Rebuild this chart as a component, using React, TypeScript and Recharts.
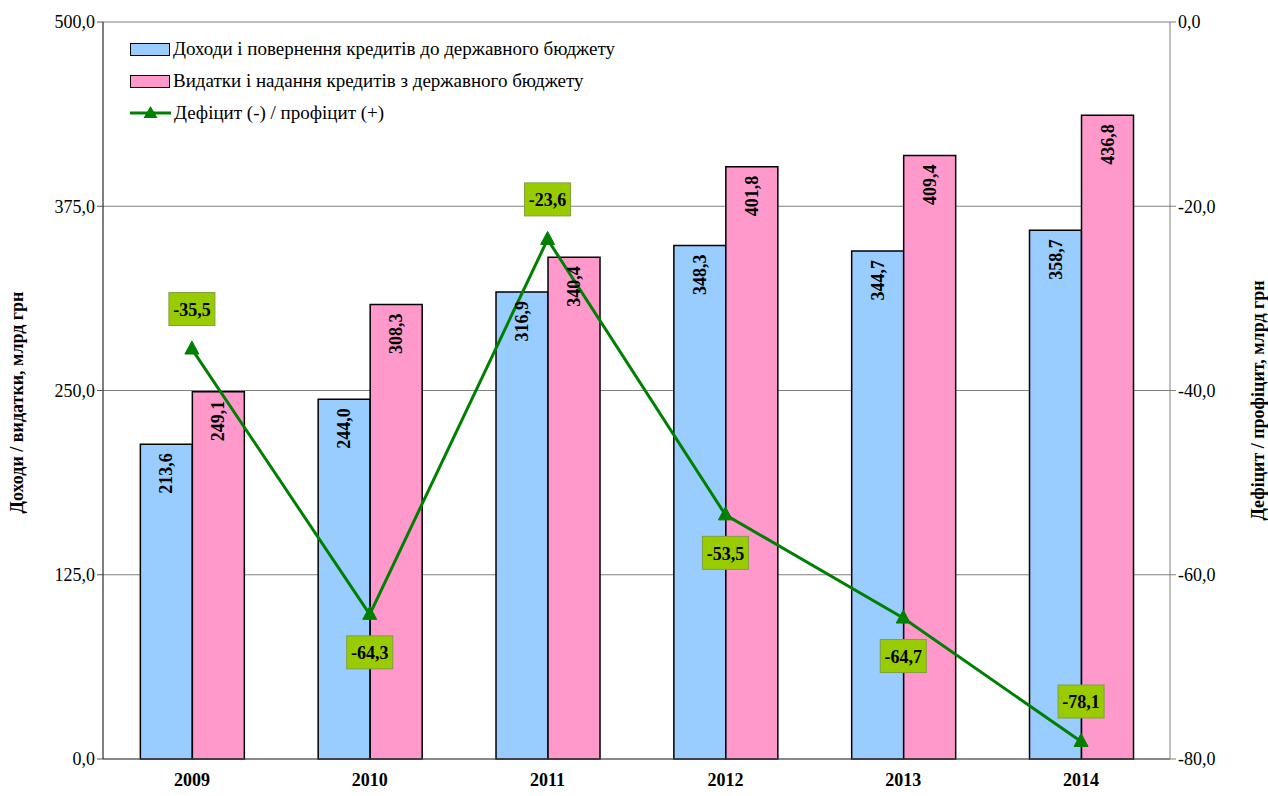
import { Bar, CartesianGrid, ComposedChart, LabelList, Line, XAxis, YAxis } from "recharts";

const years = ["2009", "2010", "2011", "2012", "2013", "2014"];
const revenues = [213.6, 244.0, 316.9, 348.3, 344.7, 358.7];
const expenditures = [249.1, 308.3, 340.4, 401.8, 409.4, 436.8];
const deficit = [-35.5, -64.3, -23.6, -53.5, -64.7, -78.1];

const leftTicks = [0, 125, 250, 375, 500];
const rightTicks = [-80, -60, -40, -20, 0];

const seriesNames = {
  revenues: "Доходи і повернення кредитів до державного бюджету",
  expenditures: "Видатки і надання кредитів з державного бюджету",
  deficit: "Дефіцит (-) / профіцит (+)",
};

const data = years.map((year, i) => ({
  year,
  revenues: revenues[i],
  expenditures: expenditures[i],
  deficit: deficit[i],
}));

const FONT = '"Liberation Serif", "Times New Roman", serif';
const fmt = (v: number) => v.toFixed(1).replace(".", ",");

const BLUE = "#99ccff";
const PINK = "#ff99cc";
const GREEN = "#008000";

// which deficit labels sit above their point
const labelAbove = [true, false, true, false, false, true];

function BarValue(props: any) {
  const { x, y, width, value } = props;
  const cx = x + width / 2;
  const ty = y + 9;
  return (
    <text
      x={cx}
      y={ty}
      transform={`rotate(-90 ${cx} ${ty})`}
      textAnchor="end"
      dominantBaseline="central"
      fontFamily={FONT}
      fontWeight="bold"
      fontSize={18}
      fill="#000"
    >
      {fmt(value)}
    </text>
  );
}

function DeficitLabel(props: any) {
  const { x, y, value, index } = props;
  const cy = labelAbove[index] ? y - 40 : y + 38;
  const w = 46;
  const h = 33;
  return (
    <g>
      <rect x={x - w / 2} y={cy - h / 2} width={w} height={h} fill="#99cc00" stroke="#7f9f3f" strokeWidth={1} />
      <text
        x={x}
        y={cy + 1}
        textAnchor="middle"
        dominantBaseline="central"
        fontFamily={FONT}
        fontWeight="bold"
        fontSize={18}
        fill="#000"
      >
        {fmt(value)}
      </text>
    </g>
  );
}

function TriangleDot(props: any) {
  const { cx, cy } = props;
  if (cx == null || cy == null) return null;
  return <polygon points={`${cx},${cy - 8} ${cx - 7},${cy + 5} ${cx + 7},${cy + 5}`} fill={GREEN} stroke={GREEN} />;
}

function LegendBox() {
  const rowStyle = { display: "flex", alignItems: "center", height: 32, whiteSpace: "nowrap" as const };
  const textStyle = { fontFamily: FONT, fontSize: 19, color: "#000", marginLeft: 3, lineHeight: "20px" };
  return (
    <div style={{ position: "absolute", left: 130, top: 33, width: 600 }}>
      <div style={rowStyle}>
        <div style={{ width: 38, height: 11, background: BLUE, border: "1.5px solid #000", flex: "none" }} />
        <span style={textStyle}>{seriesNames.revenues}</span>
      </div>
      <div style={rowStyle}>
        <div style={{ width: 38, height: 11, background: PINK, border: "1.5px solid #000", flex: "none" }} />
        <span style={textStyle}>{seriesNames.expenditures}</span>
      </div>
      <div style={rowStyle}>
        <svg width={41} height={16} style={{ flex: "none" }}>
          <line x1={0} y1={8} x2={41} y2={8} stroke={GREEN} strokeWidth={3} />
          <polygon points="20.5,1 13.5,13 27.5,13" fill={GREEN} />
        </svg>
        <span style={textStyle}>{seriesNames.deficit}</span>
      </div>
    </div>
  );
}

const tickStyle = { fontFamily: FONT, fontSize: 18, fill: "#000" };

export default function App() {
  return (
    <div style={{ position: "absolute", left: 0, top: 0, width: 1268, height: 796, background: "#fff" }}>
      <ComposedChart
        width={1268}
        height={796}
        data={data}
        margin={{ top: 22, right: 0, bottom: 0, left: 0 }}
        barCategoryGap="21%"
        barGap={0}
      >
        <CartesianGrid vertical={false} stroke="#808080" strokeWidth={1} yAxisId="left" />
        <XAxis
          dataKey="year"
          height={37}
          axisLine={{ stroke: "#555" }}
          tickLine={false}
          tick={{ ...tickStyle, fontWeight: "bold" }}
          dy={6}
        />
        <YAxis
          yAxisId="left"
          width={103}
          domain={[0, 500]}
          ticks={leftTicks}
          tickFormatter={fmt}
          axisLine={{ stroke: "#000" }}
          tickLine={{ stroke: "#555" }}
          tickSize={6}
          tick={tickStyle}
          label={{
            value: "Доходи / видатки, млрд грн",
            angle: -90,
            position: "insideLeft",
            offset: 0,
            dx: 17,
            dy: 12,
            style: { fontFamily: FONT, fontSize: 18, fontWeight: "bold", fill: "#000", textAnchor: "middle" },
          }}
        />
        <YAxis
          yAxisId="right"
          orientation="right"
          width={98}
          domain={[-80, 0]}
          ticks={rightTicks}
          tickFormatter={fmt}
          axisLine={{ stroke: "#808080" }}
          tickLine={{ stroke: "#808080" }}
          tickSize={6}
          tick={tickStyle}
          label={{
            value: "Дефіцит / профіцит,  млрд грн",
            angle: -90,
            position: "insideRight",
            offset: 0,
            dx: -10,
            dy: 10,
            style: { fontFamily: FONT, fontSize: 18, fontWeight: "bold", fill: "#000", textAnchor: "middle", whiteSpace: "pre" },
          }}
        />
        <Bar yAxisId="left" dataKey="revenues" name={seriesNames.revenues} fill={BLUE} stroke="#000" strokeWidth={1.5} isAnimationActive={false}>
          <LabelList dataKey="revenues" content={BarValue} />
        </Bar>
        <Bar yAxisId="left" dataKey="expenditures" name={seriesNames.expenditures} fill={PINK} stroke="#000" strokeWidth={1.5} isAnimationActive={false}>
          <LabelList dataKey="expenditures" content={BarValue} />
        </Bar>
        <Line
          yAxisId="right"
          dataKey="deficit"
          name={seriesNames.deficit}
          stroke={GREEN}
          strokeWidth={3}
          dot={<TriangleDot />}
          activeDot={false}
          isAnimationActive={false}
        >
          <LabelList dataKey="deficit" content={DeficitLabel} />
        </Line>
      </ComposedChart>
      <LegendBox />
    </div>
  );
}
